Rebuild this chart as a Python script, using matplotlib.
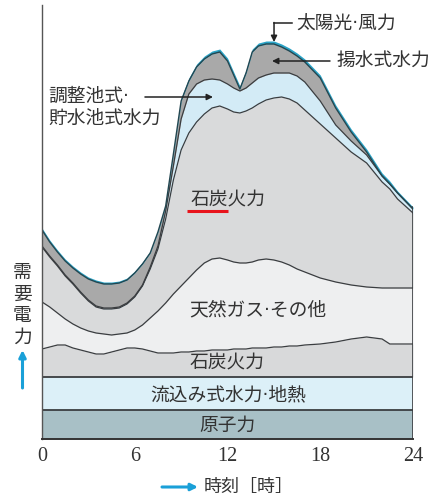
import matplotlib
matplotlib.use("Agg")
import matplotlib.pyplot as plt
import matplotlib.patches as mpatches
import numpy as np

plt.rcParams['font.family'] = ['Noto Sans CJK JP', 'DejaVu Sans']

# ---- data (upper boundary of each stacked layer, arbitrary power units) ----
hours = [0, 0.5, 1, 1.5, 2, 2.5, 3, 3.5, 4, 4.5, 5, 5.5, 6, 6.5, 7,
         7.5, 8, 8.5, 9, 9.5, 10, 10.5, 11, 11.5, 12,
         12.4, 12.8, 13.2, 13.6,
         14, 14.5, 15, 15.5, 16, 16.5, 17,
         18, 19, 20, 21, 22, 22.5, 23, 24]

nuclear_level = 29          # 原子力
river_level = 62            # 流込み式水力・地熱 (cumulative)

coal_low_top = [90, 92, 94, 94, 91, 89, 87, 85, 85, 87, 89, 91, 91, 90, 88,
                86, 86, 86, 87, 87, 88, 88, 89, 89, 89,
                90, 90, 90, 91,
                91, 91, 92, 92, 93, 93, 94,
                95, 97, 100, 102, 100, 95, 95, 95]
gas_top = [137, 132, 126, 120, 115, 111, 108, 106, 105, 104, 105, 106, 109, 114, 121,
           128, 136, 145, 153, 161, 169, 176, 180, 181, 179,
           177, 176, 176, 177,
           179, 180, 179, 177, 174, 170, 167,
           161, 157, 154, 152, 151, 151, 151, 151]
coal_up_top = [192, 182, 173, 163, 155, 146, 138, 132, 130, 130, 131, 135, 142, 153, 170,
               190, 220, 259, 289, 306, 317, 325, 331, 333, 330,
               327, 326, 328, 331,
               335, 339, 341, 342, 340, 336, 329,
               315, 301, 287, 276, 257, 250, 240, 226]
reservoir_top = [193, 183, 174, 164, 156, 147, 139, 133, 131, 131, 132, 136, 143, 154, 172,
                 193, 228, 273, 320, 345, 355, 359, 360, 359, 355,
                 351, 348, 351, 356,
                 361, 364, 366, 366, 366, 363, 357,
                 338, 314, 298, 284, 263, 255, 246, 230]
pumped_top = [209, 197, 187, 178, 171, 165, 160, 157, 155, 155, 156, 159, 166, 175, 186,
              207, 233, 285, 338, 358, 372, 380, 385, 387, 378,
              364, 350, 366, 387,
              393, 395, 395, 392, 388, 383, 377,
              361, 331, 307, 287, 263, 255, 246, 230]
solar_wind_top = [211, 199, 189, 180, 173, 167, 162, 159, 157, 157, 158, 161, 168, 177, 188,
                  209, 235, 288, 341, 361, 375, 383, 388, 390, 381,
                  367, 353, 369, 390,
                  396, 398, 398, 395, 391, 386, 380,
                  364, 334, 310, 290, 266, 258, 248, 232]

xticks = [0, 6, 12, 18, 24]
xticklabels = ['0', '6', '12', '18', '24']

# ---- figure ----
W, H = 441, 498
fig = plt.figure(figsize=(W / 100, H / 100), dpi=100)
ax = fig.add_axes([42 / W, 59 / H, 371 / W, 434 / H])
ax.set_xlim(0, 24)
ax.set_ylim(0, 434)

hrs = np.array(hours)
edge = '#3a3d40'

c_nuc = '#a8c0c6'
c_river = '#dcf0f8'
c_coal_low = '#d8d9da'
c_gas = '#eeeff0'
c_coal_up = '#d9dadb'
c_res = '#d3ebf6'
c_pump = '#a9a9a9'
c_solar = '#2aa3c6'
cyan = '#1aa0d8'

ax.fill_between(hrs, 0, nuclear_level, color=c_nuc, lw=0)
ax.fill_between(hrs, nuclear_level, river_level, color=c_river, lw=0)
ax.fill_between(hrs, river_level, coal_low_top, color=c_coal_low, lw=0)
ax.fill_between(hrs, coal_low_top, gas_top, color=c_gas, lw=0)
ax.fill_between(hrs, gas_top, coal_up_top, color=c_coal_up, lw=0)
ax.fill_between(hrs, coal_up_top, reservoir_top, color=c_res, lw=0)
ax.fill_between(hrs, reservoir_top, pumped_top, color=c_pump, lw=0)
ax.fill_between(hrs, pumped_top, solar_wind_top, color=c_solar, lw=0)

ax.axhline(nuclear_level, color=edge, lw=1.3)
ax.axhline(river_level, color=edge, lw=1.3)
for b in (coal_low_top, gas_top, coal_up_top, reservoir_top):
    ax.plot(hrs, b, color=edge, lw=0.9, solid_joinstyle='round')
ax.plot(hrs, pumped_top, color='#234650', lw=1.0, solid_joinstyle='round')
ax.plot([24, 24], [0, solar_wind_top[-1]], color=edge, lw=1.2)

for s in ('top', 'right'):
    ax.spines[s].set_visible(False)
ax.spines['left'].set_color('#555555')
ax.spines['left'].set_linewidth(1.0)
ax.spines['bottom'].set_color('#333333')
ax.spines['bottom'].set_linewidth(1.4)
ax.set_yticks([])
ax.set_xticks(xticks)
ax.set_xticklabels(xticklabels, fontfamily='Liberation Serif', fontsize=14.5, color='#333333')
ax.tick_params(axis='x', length=0, pad=6)

tc = '#333333'
fs = 13.5
fam = ['DejaVu Sans', 'Noto Sans CJK JP']
ax.text(12.03, 14, '原子力', ha='center', va='center', fontsize=fs, color=tc, family=fam)
ax.text(12.03, 44, '流込み式水力·地熱', ha='center', va='center', fontsize=fs, color=tc, family=fam)
ax.text(11.97, 76, '石炭火力', ha='center', va='center', fontsize=fs, color=tc, family=fam)
ax.text(13.94, 129, '天然ガス·その他', ha='center', va='center', fontsize=fs, color=tc, family=fam)
ax.text(12.03, 239, '石炭火力', ha='center', va='center', fontsize=fs, color=tc, family=fam)
ax.plot([9.38, 12.03], [228, 228], color='#e8141c', lw=2.2, solid_capstyle='butt')

ax.text(0.39, 343, '調整池式·', ha='left', va='center', fontsize=fs, color=tc, family=fam)
ax.text(0.39, 321, '貯水池式水力', ha='left', va='center', fontsize=fs, color=tc, family=fam)
ax.text(19.08, 379, '揚水式水力', ha='left', va='center', fontsize=fs, color=tc, family=fam)
ax.text(16.45, 415, '太陽光·風力', ha='left', va='center', fontsize=fs, color=tc, family=fam)

ap = dict(arrowstyle='-|>', color='#222222', lw=1.1, mutation_scale=9, shrinkA=0, shrinkB=0)
ax.annotate('', xy=(11.06, 342), xytext=(6.66, 342), arrowprops=ap)
ax.annotate('', xy=(14.88, 378), xytext=(18.63, 378), arrowprops=ap)
ax.plot([16.17, 15.01], [416, 416], color='#222222', lw=1.1)
ax.annotate('', xy=(15.01, 397), xytext=(15.01, 416.5), arrowprops=ap)

# axis labels (figure pixel positions)
def fx(px):
    return px / W

def fy(py):
    return (H - py) / H

fig.text(fx(22.5), fy(305), '需\n要\n電\n力', ha='center', va='center', fontsize=13.5,
         color=tc, linespacing=1.05)
cap = dict(arrowstyle='-|>', color=cyan, lw=2.2, mutation_scale=10, shrinkA=0, shrinkB=0)
fig.add_artist(mpatches.FancyArrowPatch((fx(22.5), fy(388)), (fx(22.5), fy(350)),
                                        transform=fig.transFigure, **cap))
fig.add_artist(mpatches.FancyArrowPatch((fx(162), fy(487)), (fx(198), fy(487)),
                                        transform=fig.transFigure, **cap))
fig.text(fx(204), fy(487), '時刻［時］', ha='left', va='center', fontsize=13, color=tc)

fig.savefig('out.png', dpi=100)
